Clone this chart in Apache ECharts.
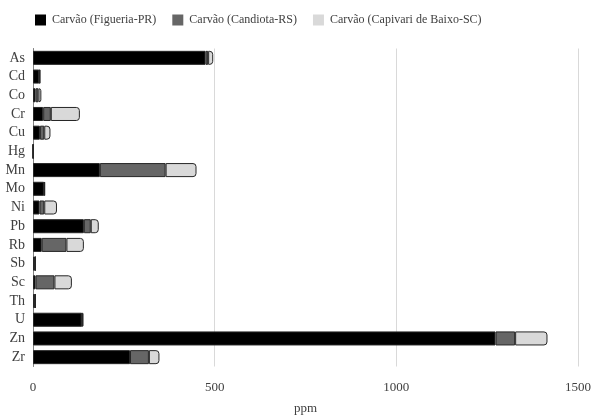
<!DOCTYPE html>
<html><head><meta charset="utf-8">
<script src="https://cdn.jsdelivr.net/npm/echarts@6/dist/echarts.min.js"></script>
<style>html,body{margin:0;padding:0;background:#fff}#c{width:592px;height:419px}</style>
</head><body><div id="c"></div>
<script>
const categories = ['As','Cd','Co','Cr','Cu','Hg','Mn','Mo','Ni','Pb','Rb','Sb','Sc','Th','U','Zn','Zr'];
const figueira = [475, 17, 7, 28, 19, 0.3, 184, 30, 18, 140, 24, 6, 7, 6, 134, 1273, 267];
const candiota = [7, 1, 8, 21, 12, 0.1, 181, 1, 13, 19, 68, 0.5, 52, 0.5, 1, 54, 52];
const capivari = [14, 2, 8, 80, 17, 0.1, 85, 2, 35, 22, 48, 0.5, 48, 0.5, 4, 89, 29];
const seriesNames = ['Carvão (Figueria-PR)', 'Carvão (Candiota-RS)', 'Carvão (Capivari de Baixo-SC)'];
const xTicks = [0, 500, 1000, 1500];

const font = 'Liberation Serif';
const chart = echarts.init(document.getElementById('c'));
const mk = (name, data, color, radius) => ({
  name, type: 'bar', stack: 't', data,
  barCategoryGap: '25%',
  itemStyle: { color, borderColor: '#262626', borderWidth: 1, borderRadius: radius },
  emphasis: { disabled: true }
});
chart.setOption({
  animation: false,
  textStyle: { fontFamily: font },
  legend: {
    left: 35, top: 14, padding: 0, itemWidth: 11, itemHeight: 11, itemGap: 16,
    icon: 'rect',
    itemStyle: { borderWidth: 0 },
    textStyle: { fontFamily: font, fontSize: 12, color: '#404040', padding: [0, 0, 0, 1] },
    data: seriesNames
  },
  grid: { left: 33, right: 14, top: 48.5, bottom: 52.5, containLabel: false, outerBoundsMode: 'none' },
  xAxis: {
    type: 'value', min: 0, max: 1500, interval: 500,
    name: 'ppm', nameLocation: 'middle', nameGap: 36,
    nameTextStyle: { fontFamily: font, fontSize: 13, color: '#404040' },
    axisLine: { show: false }, axisTick: { show: false },
    axisLabel: { fontFamily: font, fontSize: 13, color: '#404040', margin: 15,
      formatter: v => xTicks.includes(v) ? String(v) : '' },
    splitLine: { lineStyle: { color: '#d9d9d9', width: 1 } }
  },
  yAxis: {
    type: 'category', data: categories, inverse: true,
    axisLine: { show: true, lineStyle: { color: '#808080', width: 1 } },
    axisTick: { show: false },
    axisLabel: { fontFamily: font, fontSize: 14, color: '#404040', margin: 8 }
  },
  series: [
    mk(seriesNames[0], figueira, '#000000', 0),
    mk(seriesNames[1], candiota, '#666666', 0),
    mk(seriesNames[2], capivari, '#d9d9d9', [0, 3, 3, 0])
  ]
});
</script></body></html>
